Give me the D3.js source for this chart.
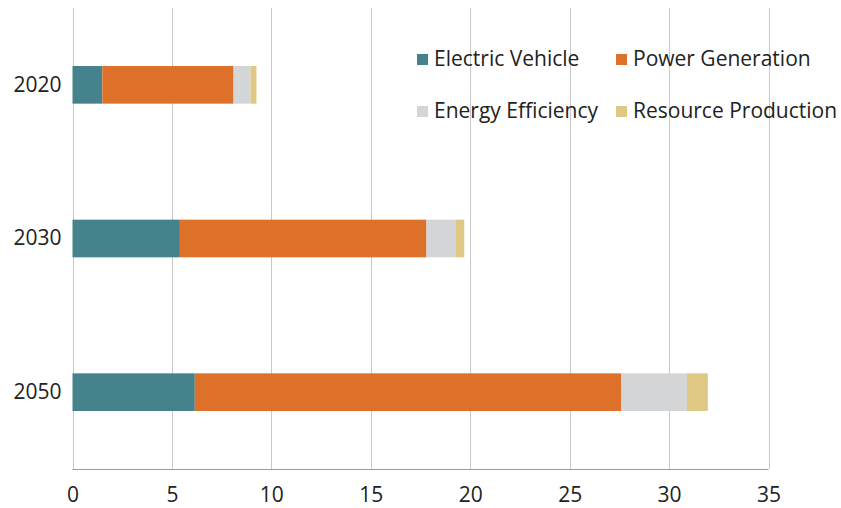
<!DOCTYPE html>
<html>
<head>
<meta charset="utf-8">
<script src="https://cdn.jsdelivr.net/npm/d3@7"></script>
<style>
  html, body { margin: 0; padding: 0; background: #fff; }
  svg { display: block; font-family: "Open Sans", sans-serif; }
</style>
</head>
<body>
<svg id="chart" width="841" height="508"></svg>
<script>
const years = ["2020", "2030", "2050"];
const seriesNames = ["Electric Vehicle", "Power Generation", "Energy Efficiency", "Resource Production"];
const electricVehicle = [1.5, 5.4, 6.15];
const powerGeneration = [6.6, 12.4, 21.45];
const energyEfficiency = [0.85, 1.45, 3.3];
const resourceProduction = [0.3, 0.45, 1.05];
const xTicks = [0, 5, 10, 15, 20, 25, 30, 35];
const colors = ["#46828b", "#de7129", "#d4d5d7", "#dfc883"];

const rows = years.map((yr, i) => ({
  year: yr,
  "Electric Vehicle": electricVehicle[i],
  "Power Generation": powerGeneration[i],
  "Energy Efficiency": energyEfficiency[i],
  "Resource Production": resourceProduction[i]
}));

const svg = d3.select("#chart");
const plotLeft = 72.5, plotRight = 768.5, plotTop = 8, plotBottom = 469;
const fontSize = 21;

const x = d3.scaleLinear().domain([0, 35]).range([plotLeft, plotRight]);
const y = d3.scaleBand().domain(years).range([plotTop, plotBottom]).paddingInner(0.755).paddingOuter(0.3775);
const color = d3.scaleOrdinal().domain(seriesNames).range(colors);

// gridlines
svg.append("g").selectAll("line").data(xTicks).join("line")
  .attr("x1", d => Math.round(x(d)) + 0.5).attr("x2", d => Math.round(x(d)) + 0.5)
  .attr("y1", plotTop).attr("y2", plotBottom)
  .attr("stroke", "#c8c8c8").attr("stroke-width", 1);

// stacked bars
const stacked = d3.stack().keys(seriesNames)(rows);
svg.append("g").selectAll("g").data(stacked).join("g")
  .attr("fill", d => color(d.key))
  .selectAll("rect").data(d => d).join("rect")
  .attr("x", d => x(d[0]))
  .attr("width", d => x(d[1]) - x(d[0]))
  .attr("y", d => y(d.data.year))
  .attr("height", y.bandwidth());

// x axis
const xAxis = svg.append("g").attr("transform", `translate(0,${plotBottom + 0.5})`)
  .call(d3.axisBottom(x).tickValues(xTicks).tickSize(0).tickPadding(17.5));
xAxis.select(".domain").attr("stroke", "#9a9a9a").attr("d", `M${plotLeft},0H${plotRight}`);
xAxis.selectAll("text").attr("font-size", fontSize).attr("fill", "#222").attr("font-family", "Open Sans");

// y axis
const yAxis = svg.append("g").attr("transform", `translate(${plotLeft},0)`)
  .call(d3.axisLeft(y).tickSize(0).tickPadding(11));
yAxis.select(".domain").remove();
yAxis.selectAll("text").attr("font-size", fontSize).attr("fill", "#222").attr("font-family", "Open Sans");

// legend
const legendPos = [
  {sx: 417, cy: 59}, {sx: 616, cy: 59},
  {sx: 417, cy: 111}, {sx: 616, cy: 111}
];
const lg = svg.append("g").selectAll("g").data(seriesNames).join("g")
  .attr("transform", (d, i) => `translate(${legendPos[i].sx},${legendPos[i].cy})`);
lg.append("rect").attr("x", 0).attr("y", -5).attr("width", 11).attr("height", 11)
  .attr("fill", d => color(d));
lg.append("text").attr("x", 17).attr("y", 0).attr("dy", "0.35em")
  .attr("font-size", fontSize).attr("fill", "#222").text(d => d);
</script>
</body>
</html>
